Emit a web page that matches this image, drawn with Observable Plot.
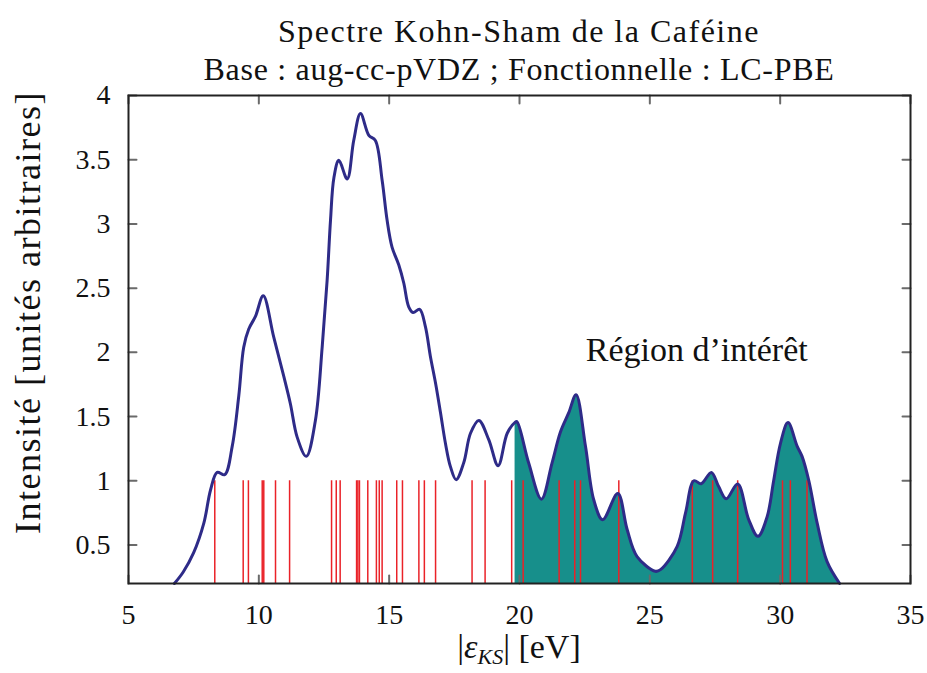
<!DOCTYPE html>
<html>
<head>
<meta charset="utf-8">
<script src="https://cdn.jsdelivr.net/npm/d3@7"></script>
<script src="https://cdn.jsdelivr.net/npm/@observablehq/plot@0.6"></script>
<style>
  body { margin: 0; background: #fff; font-family: "Liberation Serif", serif; color: #111; position: relative; width: 927px; height: 673px; overflow: hidden; }
  #title { position: absolute; top: 0; box-sizing: border-box; padding-top: 12px; left: 128px; width: 782px;
           text-align: center; font-size: 32px; line-height: 38px; letter-spacing: 0.7px; white-space: nowrap; }
  #title .l1 { letter-spacing: 1.5px; }
  #xlabel { position: absolute; top: 632px; left: 128px; width: 782px; text-align: center; font-size: 34px; line-height: 30px; }
  #xlabel sub { font-size: 22px; font-style: italic; vertical-align: -6px; line-height: 0; }
  #chart svg text { font-family: "Liberation Serif", serif !important; }
</style>
</head>
<body>
<div id="chart"></div>
<div id="title"><span class="l1">Spectre Kohn-Sham de la Caféine</span><br>Base : aug-cc-pVDZ ; Fonctionnelle : LC-PBE</div>
<div id="xlabel">|<i>ε</i><sub>KS</sub>| [eV]</div>
<script>
const xTicks = [5, 10, 15, 20, 25, 30, 35];
const yTicks = [0.5, 1, 1.5, 2, 2.5, 3, 3.5, 4];
const xDomain = [5, 35];
const yDomain = [0.2, 4];
const stickTop = 1;
const regionStart = 19.83;

// Kohn-Sham eigenvalues (eV) — red sticks
const energies = [8.31, 9.40, 9.60, 10.13, 10.19, 10.64, 11.18, 12.79, 12.97, 13.12,
  13.75, 13.80, 13.86, 14.18, 14.51, 14.62, 14.73, 15.29, 15.51, 16.14, 16.35, 16.78,
  18.18, 18.68, 19.70, 20.14, 21.52, 22.12, 22.34, 23.81, 26.63, 27.41, 28.37,
  30.09, 30.39, 31.03];

// Broadened spectrum
const dosX = [6.76, 7.10, 7.50, 7.89, 8.15, 8.40, 8.69, 8.98, 9.23, 9.42, 9.61, 9.87,
  10.17, 10.57, 10.96, 11.21, 11.47, 11.82, 12.17, 12.43, 12.62, 12.75, 12.88, 13.07,
  13.39, 13.64, 13.90, 14.22, 14.47, 14.73, 14.92, 15.11, 15.37, 15.56, 15.75, 15.92,
  16.17, 16.39, 16.58, 16.78, 16.97, 17.16, 17.35, 17.57, 17.86, 18.12, 18.44, 18.82,
  19.18, 19.53, 19.83, 19.90, 20.35, 20.84, 21.25, 21.57, 21.89, 22.17, 22.53, 22.85,
  23.19, 23.77, 24.13, 24.51, 25.21, 25.41, 26.05, 26.37, 26.69, 26.97, 27.36, 27.64,
  27.93, 28.37, 28.79, 29.15, 29.50, 29.75, 30.01, 30.30, 30.65, 30.84, 31.10, 31.42,
  31.80, 32.28];
const dosY = [0.20, 0.29, 0.44, 0.67, 0.93, 1.065, 1.047, 1.27, 1.66, 2.04, 2.18, 2.28,
  2.44, 2.12, 1.81, 1.60, 1.34, 1.19, 1.47, 2.04, 2.56, 3.03, 3.36, 3.495,
  3.35, 3.65, 3.86, 3.69, 3.65, 3.34, 3.03, 2.82, 2.68, 2.54, 2.355, 2.31,
  2.335, 2.20, 1.97, 1.76, 1.53, 1.29, 1.11, 1.008, 1.14, 1.37, 1.47, 1.32,
  1.117, 1.37, 1.455, 1.46, 1.14, 0.857, 1.14, 1.38, 1.53, 1.67, 1.27, 0.85,
  0.697, 0.90, 0.62, 0.41, 0.295, 0.308, 0.49, 0.75, 1.0, 0.977, 1.065, 0.955,
  0.86, 0.975, 0.70, 0.567, 0.72, 1.0, 1.29, 1.453, 1.27, 1.19, 1.0, 0.67,
  0.37, 0.20];

const regionLabel = {x: 26.8, y: 2.02, text: "Région d’intérêt"};
const yLabel = "Intensité [unités arbitraires]";

const curve = dosX.map((x, i) => ({x, y: dosY[i]}));
const region = curve.filter(d => d.x >= regionStart);

const serif = "Liberation Serif";
const tickShape = {draw(context, l) { context.moveTo(0, 0); context.lineTo(0, -l); }};
const tickStyle = {length: 8, anchor: "start", shape: tickShape, stroke: "#6a6a6a", strokeWidth: 2};

const chart = Plot.plot({
  width: 927,
  height: 673,
  marginTop: 95,
  marginBottom: 90,
  marginLeft: 128,
  marginRight: 17,
  style: {fontFamily: serif, fontSize: "28px", color: "#111", background: "transparent"},
  x: {domain: xDomain},
  y: {domain: yDomain},
  marks: [
    Plot.areaY(region, {x: "x", y1: () => yDomain[0], y2: "y", fill: "#178f8b", curve: "catmull-rom"}),
    Plot.ruleX(energies, {x: d => d, y1: () => yDomain[0], y2: () => stickTop, stroke: "#ea2228", strokeWidth: 1.5}),
    Plot.vector(xTicks, {x: d => d, frameAnchor: "bottom", rotate: 0, ...tickStyle}),
    Plot.vector(xTicks, {x: d => d, frameAnchor: "top", rotate: 180, ...tickStyle}),
    Plot.vector(yTicks, {y: d => d, frameAnchor: "left", rotate: 90, ...tickStyle}),
    Plot.vector(yTicks, {y: d => d, frameAnchor: "right", rotate: -90, ...tickStyle}),
    Plot.line(curve, {x: "x", y: "y", stroke: "#2e2b88", strokeWidth: 3, curve: "catmull-rom"}),
    Plot.frame({stroke: "#222", strokeWidth: 2}),
    Plot.axisX({ticks: xTicks, tickSize: 0, tickPadding: 21, label: null, fontSize: 28, fontFamily: serif, tickFormat: d => String(d)}),
    Plot.axisY({ticks: yTicks, tickSize: 0, tickPadding: 18, label: null, fontSize: 28, fontFamily: serif, tickFormat: d => String(d)}),
    Plot.text([regionLabel], {x: "x", y: "y", text: "text", fontSize: 34, fontFamily: serif, fill: "#111"}),
    Plot.text([yLabel], {text: d => d, frameAnchor: "left", textAnchor: "middle", rotate: -90, dx: -100, dy: -27,
      fontSize: 36, fontFamily: serif, fill: "#111"})
  ]
});
d3.select(chart).selectAll("text").filter(function() { return this.textContent === yLabel; })
  .attr("letter-spacing", "1.5px");
document.getElementById("chart").appendChild(chart);
</script>
</body>
</html>
